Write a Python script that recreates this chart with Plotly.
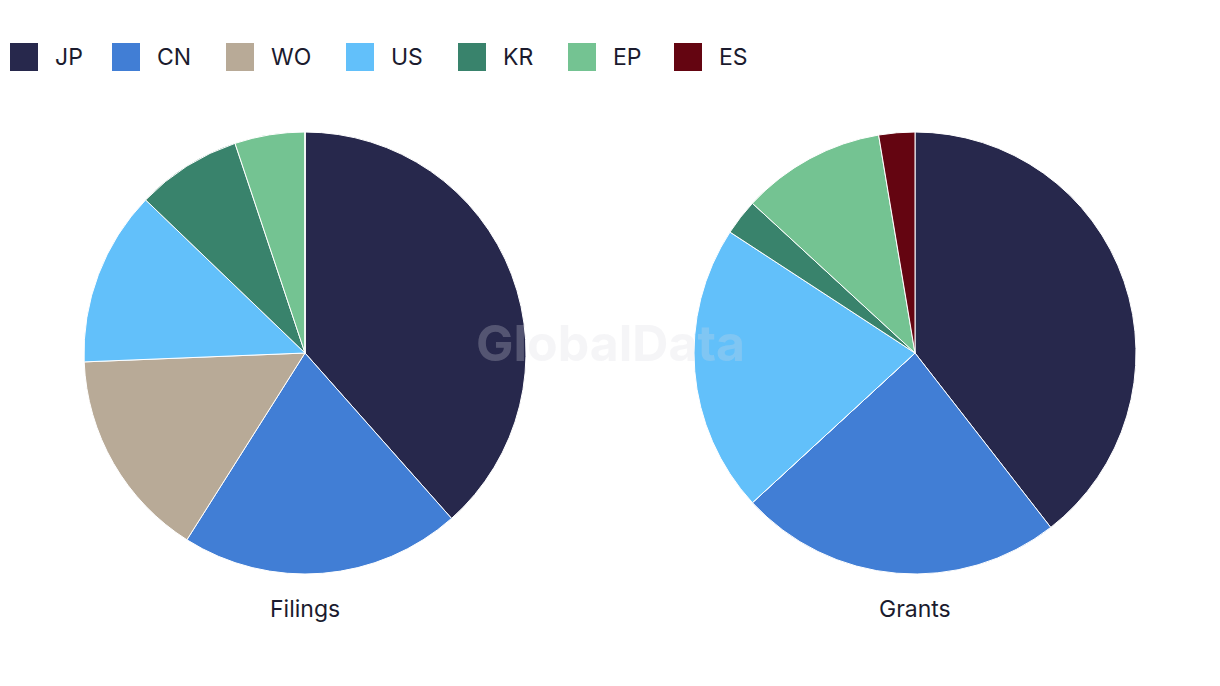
import plotly.graph_objects as go

categories = ["JP", "CN", "WO", "US", "KR", "EP", "ES"]
colors = ["#27284C", "#417ED5", "#B8AA97", "#62C0FA", "#39836C", "#74C392", "#640511"]
filings = [15, 8, 6, 5, 3, 2, 0]
grants = [15, 9, 0, 8, 1, 4, 1]
pie_titles = ["Filings", "Grants"]

W, H = 1220, 686
fig = go.Figure()

domains = [[84 / W, 526 / W], [694 / W, 1136 / W]]
ydom = [112 / H, 554 / H]
for vals, dom, name in zip([filings, grants], domains, pie_titles):
    fig.add_trace(go.Pie(
        labels=categories, values=vals, name=name,
        marker=dict(colors=colors, line=dict(color="white", width=1)),
        sort=False, direction="clockwise", rotation=0,
        textinfo="none", showlegend=False,
        domain=dict(x=dom, y=ydom),
    ))

annotations = []
for name, dom in zip(pie_titles, domains):
    annotations.append(dict(
        x=(dom[0] + dom[1]) / 2, y=1 - 609 / H, xref="paper", yref="paper",
        text=name, showarrow=False, xanchor="center", yanchor="middle",
        font=dict(family="Inter, sans-serif", size=23, color="#1B1B2E"),
    ))

# custom legend
shapes = []
leg_x = [10, 112, 226, 346, 458, 568, 674]
for cat, col, x0 in zip(categories, colors, leg_x):
    shapes.append(dict(
        type="rect", xref="paper", yref="paper",
        x0=x0 / W, x1=(x0 + 28) / W, y0=1 - 71 / H, y1=1 - 43 / H,
        fillcolor=col, line=dict(width=0),
    ))
    annotations.append(dict(
        x=(x0 + 43) / W, y=1 - 57 / H, xref="paper", yref="paper",
        text=cat, showarrow=False, xanchor="left", yanchor="middle",
        font=dict(family="Inter, sans-serif", size=23, color="#1B1B2E"),
    ))

# watermark
annotations.append(dict(
    x=610 / W, y=1 - 343 / H, xref="paper", yref="paper",
    text="<b>GlobalData</b>", showarrow=False, xanchor="center", yanchor="middle",
    font=dict(family="Inter, sans-serif", size=50, color="rgba(215,215,225,0.26)"),
))

fig.update_layout(
    width=W, height=H,
    margin=dict(l=0, r=0, t=0, b=0),
    paper_bgcolor="white", plot_bgcolor="white",
    shapes=shapes, annotations=annotations,
    showlegend=False,
)

fig.write_html("out.html")
